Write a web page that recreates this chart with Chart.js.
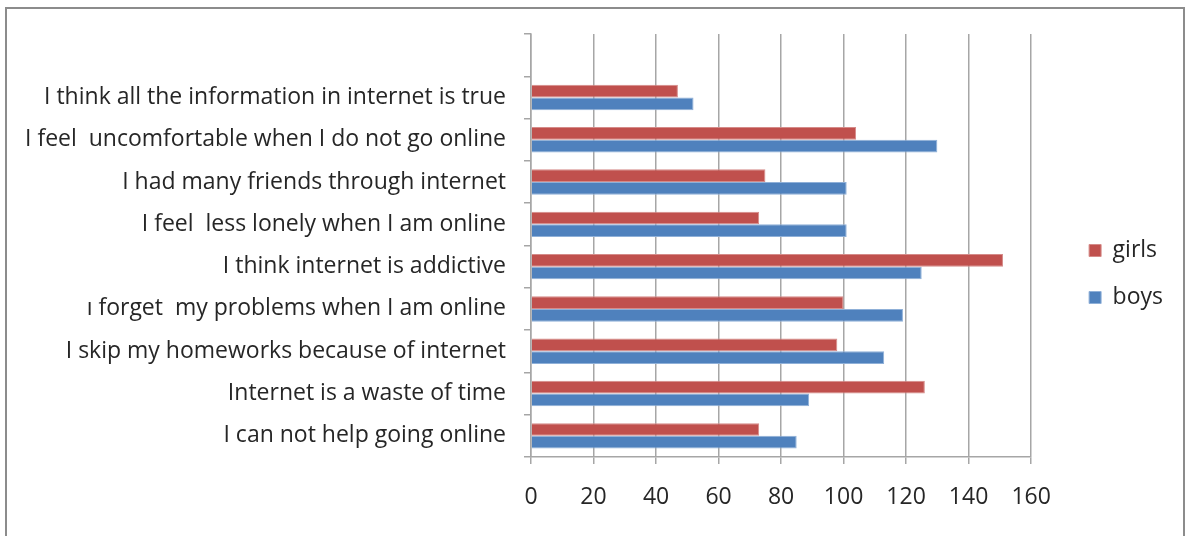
<!DOCTYPE html>
<html>
<head>
<meta charset="utf-8">
<script src="https://cdn.jsdelivr.net/npm/chart.js@4"></script>
<style>
  body { margin: 0; background: #fff; }
  .frame {
    position: absolute;
    left: 5px;
    top: 7px;
    width: 1180px;
    height: 540px;
    border: 2px solid #8c8c8c;
    box-sizing: border-box;
  }
  .chart-box {
    position: absolute;
    left: 0;
    top: 0;
    width: 1189px;
    height: 536px;
  }
</style>
</head>
<body>
<div class="frame"></div>
<div class="chart-box">
  <canvas id="barChart" width="1189" height="536"></canvas>
</div>
<script>
// categories top to bottom (first slot is empty in the original)
const categories = [
  "",
  "I think all the information in internet is true",
  "I feel  uncomfortable when I do not go online",
  "I had many friends through internet",
  "I feel  less lonely when I am online",
  "I think internet is addictive",
  "ı forget  my problems when I am online",
  "I skip my homeworks because of internet",
  "Internet is a waste of time",
  "I can not help going online",
];
const girls = [null, 47, 104, 75, 73, 151, 100, 98, 126, 73];
const boys = [null, 52, 130, 101, 101, 125, 119, 113, 89, 85];
const xTicks = [0, 20, 40, 60, 80, 100, 120, 140, 160];

const labelFont = { family: "'Open Sans', sans-serif", size: 23 };
const textColor = "#262626";
const gridColor = "#a6a6a6";

// legend sits a bit further right and lower than Chart.js puts it
const moveLegend = {
  id: "moveLegend",
  afterLayout: (chart) => {
    const legend = chart.legend;
    legend.left += 34;
    legend.right += 34;
    legend.top -= 11;
    legend.bottom -= 11;
  },
};

const ctx = document.getElementById("barChart");

new Chart(ctx, {
  type: "bar",
  data: {
    labels: categories,
    datasets: [
      {
        label: "girls",
        data: girls,
        backgroundColor: "#C0504D",
        borderColor: "#d58b89",
        borderWidth: 1,
      },
      {
        label: "boys",
        data: boys,
        backgroundColor: "#4F81BD",
        borderColor: "#8fb0d8",
        borderWidth: 1,
      },
    ],
  },
  plugins: [moveLegend],
  options: {
    indexAxis: "y",
    responsive: false,
    animation: false,
    categoryPercentage: 0.6,
    barPercentage: 1,
    layout: {
      padding: { top: 34, right: 50, bottom: 0, left: 0 },
    },
    plugins: {
      tooltip: { enabled: false },
      legend: {
        position: "right",
        labels: {
          font: labelFont,
          color: textColor,
          boxWidth: 12,
          boxHeight: 12,
          padding: 24,
        },
      },
    },
    scales: {
      x: {
        min: xTicks[0],
        max: xTicks[xTicks.length - 1],
        afterBuildTicks: (scale) => {
          scale.ticks = xTicks.map((v) => ({ value: v }));
        },
        afterFit: (scale) => {
          scale.height = 79;
        },
        grid: {
          color: gridColor,
          lineWidth: 1.5,
          tickLength: 7,
        },
        border: { color: gridColor, width: 1.5 },
        ticks: {
          font: labelFont,
          color: textColor,
          padding: 20,
        },
      },
      y: {
        afterFit: (scale) => {
          scale.width = 531;
        },
        grid: {
          offset: true,
          drawOnChartArea: false,
          color: gridColor,
          lineWidth: 1.5,
          tickLength: 7,
        },
        border: { color: gridColor, width: 1.5 },
        ticks: {
          font: labelFont,
          color: textColor,
          padding: 18,
          autoSkip: false,
        },
      },
    },
  },
});
</script>
</body>
</html>
